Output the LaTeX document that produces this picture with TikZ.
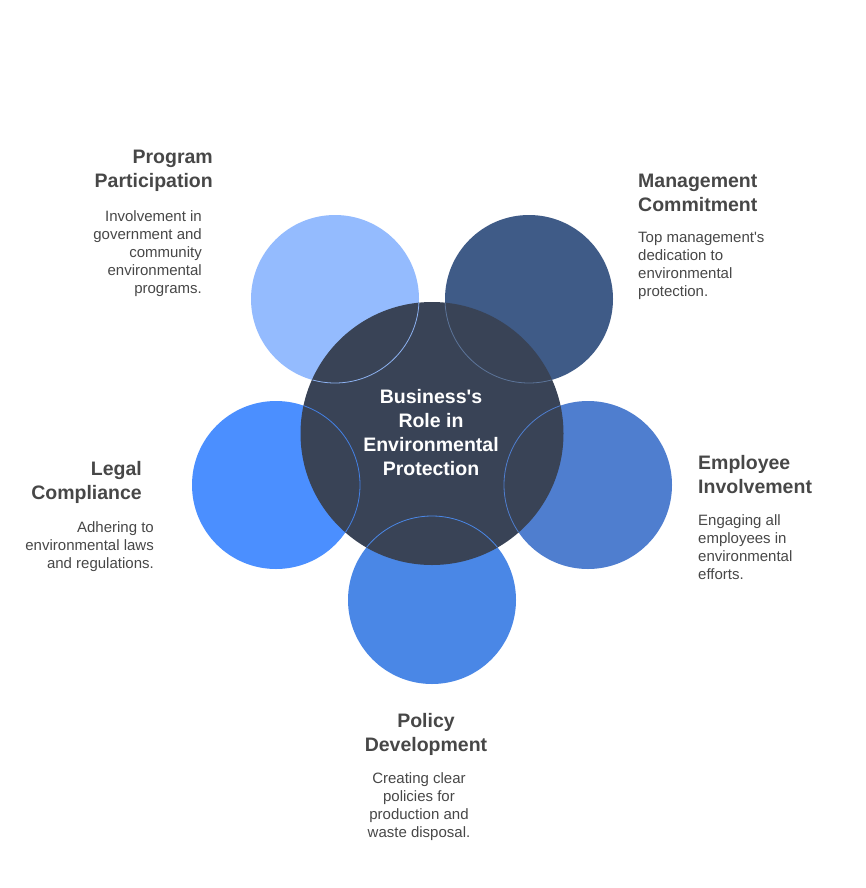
\documentclass[tikz,border=0pt]{standalone}
\usepackage{fontspec}
\setmainfont{Liberation Sans}
\definecolor{cprog}{HTML}{94BBFE}
\definecolor{cmgmt}{HTML}{3F5B87}
\definecolor{cempl}{HTML}{4F7ECF}
\definecolor{cpol}{HTML}{4A87E6}
\definecolor{clegal}{HTML}{4B8FFF}
\definecolor{chub}{HTML}{394356}
\definecolor{ctext}{HTML}{474747}
\newcommand{\apos}{\textquotesingle}
\begin{document}
\begin{tikzpicture}[x=1pt,y=-1pt,
  outer/.style={circle, minimum size=168pt, inner sep=0pt, draw=none},
  ttl/.style={inner sep=0pt, text=ctext, font=\bfseries\fontsize{19.5}{24}\selectfont},
  dsc/.style={inner sep=0pt, text=ctext, font=\fontsize{15}{18}\selectfont},
  hubtxt/.style={inner sep=0pt, text=white, font=\bfseries\fontsize{19.5}{24}\selectfont},
  ring/.style={line width=0.8pt}]
\useasboundingbox (0,0) rectangle (865,888);
% outer circles
\node[outer, fill=cprog]  (prog)  at (335,299) {};
\node[outer, fill=cmgmt]  (mgmt)  at (529,299) {};
\node[outer, fill=cempl]  (empl)  at (588,485) {};
\node[outer, fill=cpol]   (pol)   at (432,600) {};
\node[outer, fill=clegal] (legal) at (276,485) {};
% hub
\node[circle, minimum size=263pt, inner sep=0pt, fill=chub] (hub) at (432,433.5) {};
% outlines over hub
\begin{scope}
\clip (hub.center) circle[radius=131pt];
\draw[ring, draw=cprog!95!black]  (prog.center)  circle[radius=84pt];
\draw[ring, draw=cmgmt!85!white]  (mgmt.center)  circle[radius=84pt];
\draw[ring, draw=cempl]  (empl.center)  circle[radius=84pt];
\draw[ring, draw=cpol]   (pol.center)   circle[radius=84pt];
\draw[ring, draw=clegal!90!black] (legal.center) circle[radius=84pt];
\end{scope}
% hub text
\foreach \s [count=\i from 0] in {Business\apos s,Role in,Environmental,Protection}
  \node[hubtxt, anchor=base] (hub-t\i) at (431,{403+24*\i}) {\s};
% Program Participation
\foreach \s [count=\i from 0] in {Program,Participation}
  \node[ttl, anchor=base east] (pp-t\i) at (213,{163+24*\i}) {\s};
\foreach \s [count=\i from 0] in {Involvement in,government and,community,environmental,programs.}
  \node[dsc, anchor=base east] (pp-d\i) at (202,{221+18*\i}) {\s};
% Management Commitment
\foreach \s [count=\i from 0] in {Management,Commitment}
  \node[ttl, anchor=base west] (mc-t\i) at (638,{187+24*\i}) {\s};
\foreach \s [count=\i from 0] in {Top management\apos s,dedication to,environmental,protection.}
  \node[dsc, anchor=base west] (mc-d\i) at (638,{242+18*\i}) {\s};
% Employee Involvement
\foreach \s [count=\i from 0] in {Employee,Involvement}
  \node[ttl, anchor=base west] (ei-t\i) at (698,{469+24*\i}) {\s};
\foreach \s [count=\i from 0] in {Engaging all,employees in,environmental,efforts.}
  \node[dsc, anchor=base west] (ei-d\i) at (698,{525+18*\i}) {\s};
% Legal Compliance
\foreach \s [count=\i from 0] in {Legal,Compliance}
  \node[ttl, anchor=base east] (lc-t\i) at (142,{475+24*\i}) {\s};
\foreach \s [count=\i from 0] in {Adhering to,environmental laws,and regulations.}
  \node[dsc, anchor=base east] (lc-d\i) at (154,{532+18*\i}) {\s};
% Policy Development
\foreach \s [count=\i from 0] in {Policy,Development}
  \node[ttl, anchor=base] (pd-t\i) at (426,{727+24*\i}) {\s};
\foreach \s [count=\i from 0] in {Creating clear,policies for,production and,waste disposal.}
  \node[dsc, anchor=base] (pd-d\i) at (419,{783+18*\i}) {\s};
\end{tikzpicture}
\end{document}
